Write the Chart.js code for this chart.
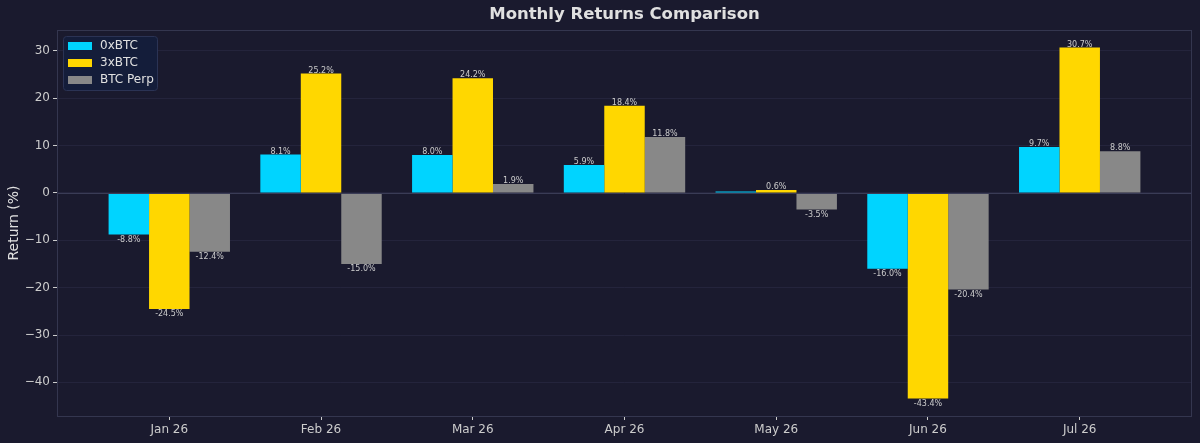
<!DOCTYPE html>
<html>
<head>
<meta charset="utf-8">
<script src="https://cdn.jsdelivr.net/npm/chart.js@4.4.1/dist/chart.umd.min.js"></script>
<style>
  html, body { margin: 0; padding: 0; background: #1a1a2e; }
  #wrap { width: 1200px; height: 443px; position: relative; }
</style>
</head>
<body>
<div id="wrap"><canvas id="returnsChart"></canvas></div>
<script>
// chart data
var months = ["Jan 26", "Feb 26", "Mar 26", "Apr 26", "May 26", "Jun 26", "Jul 26"];
var returns0x = [-8.8, 8.1, 8.0, 5.9, 0.3, -16.0, 9.7];
var returns3x = [-24.5, 25.2, 24.2, 18.4, 0.6, -43.4, 30.7];
var returnsPerp = [-12.4, -15.0, 1.9, 11.8, -3.5, -20.4, 8.8];
var yTicks = [-40, -30, -20, -10, 0, 10, 20, 30];

var FONT = "'DejaVu Sans', sans-serif";

function toPoints(values) {
    return values.map(function (v, i) { return { x: i, y: v }; });
}

// title, frame, zero line, legend and value labels
var decorPlugin = {
    id: "decor",
    afterDatasetsDraw: function (chart) {
        var ctx = chart.ctx;
        var area = chart.chartArea;
        var y0 = Math.round(chart.scales.y.getPixelForValue(0)) + 0.5;
        ctx.save();
        ctx.strokeStyle = "#3a3c56";
        ctx.lineWidth = 1;
        ctx.beginPath();
        ctx.moveTo(area.left, y0);
        ctx.lineTo(area.right, y0);
        ctx.stroke();
        ctx.restore();
    },
    afterDraw: function (chart) {
        var ctx = chart.ctx;
        var area = chart.chartArea;
        ctx.save();

        // frame
        ctx.strokeStyle = "#34364f";
        ctx.lineWidth = 1;
        ctx.strokeRect(area.left + 0.5, area.top + 0.5, area.right - area.left - 1, area.bottom - area.top);

        // title
        ctx.fillStyle = "#e0e0e0";
        ctx.font = "bold 16.5px " + FONT;
        ctx.textAlign = "center";
        ctx.textBaseline = "middle";
        ctx.fillText("Monthly Returns Comparison", (area.left + area.right) / 2, 15);

        // value labels
        ctx.font = "8px " + FONT;
        ctx.fillStyle = "#cccccc";
        chart.data.datasets.forEach(function (ds, di) {
            var meta = chart.getDatasetMeta(di);
            meta.data.forEach(function (bar, i) {
                var v = ds.data[i].y;
                if (Math.abs(v) < 0.5) return;
                var txt = v.toFixed(1) + "%";
                ctx.textBaseline = v >= 0 ? "bottom" : "top";
                ctx.fillText(txt, bar.x, bar.y + 1);
            });
        });

        // legend
        var lx = area.left + 6, ly = area.top + 6, lw = 94, lh = 54;
        ctx.fillStyle = "#141d3a";
        ctx.strokeStyle = "#2b3354";
        ctx.beginPath();
        ctx.roundRect(lx + 0.5, ly + 0.5, lw, lh, 3);
        ctx.fill();
        ctx.stroke();
        ctx.font = "12px " + FONT;
        ctx.textAlign = "left";
        ctx.textBaseline = "middle";
        chart.data.datasets.forEach(function (ds, di) {
            var ry = ly + 10 + di * 17;
            ctx.fillStyle = ds.backgroundColor;
            ctx.fillRect(lx + 5, ry - 4, 24, 8);
            ctx.fillStyle = "#e0e0e0";
            ctx.fillText(ds.label, lx + 37, ry);
        });

        ctx.restore();
    }
};

new Chart(document.getElementById("returnsChart"), {
    type: "bar",
    data: {
        datasets: [{
            label: "0xBTC",
            data: toPoints(returns0x),
            backgroundColor: "#00d4ff",
            borderWidth: 0
        }, {
            label: "3xBTC",
            data: toPoints(returns3x),
            backgroundColor: "#ffd700",
            borderWidth: 0
        }, {
            label: "BTC Perp",
            data: toPoints(returnsPerp),
            backgroundColor: "#888888",
            borderWidth: 0
        }]
    },
    options: {
        responsive: true,
        maintainAspectRatio: false,
        animation: false,
        layout: { padding: { top: 30, right: 8, left: 0, bottom: 0 } },
        datasets: { bar: { categoryPercentage: 0.8, barPercentage: 1.0 } },
        plugins: {
            legend: { display: false },
            title: { display: false },
            tooltip: { enabled: false }
        },
        scales: {
            x: {
                type: "linear",
                min: -0.74,
                max: 6.74,
                offset: false,
                afterBuildTicks: function (axis) {
                    axis.ticks = months.map(function (m, i) { return { value: i }; });
                },
                afterFit: function (axis) { axis.height = 27; },
                ticks: {
                    color: "#cccccc",
                    font: { family: FONT, size: 12 },
                    padding: 3,
                    maxRotation: 0,
                    callback: function (value) { return months[value]; }
                },
                grid: {
                    offset: false,
                    drawOnChartArea: false,
                    drawTicks: true,
                    tickLength: 4,
                    tickColor: "#cccccc"
                },
                border: { display: false }
            },
            y: {
                min: -47.1,
                max: 34.4,
                z: 1,
                afterBuildTicks: function (axis) {
                    axis.ticks = yTicks.map(function (v) { return { value: v }; });
                },
                afterFit: function (axis) { axis.width = 57; },
                ticks: {
                    color: "#cccccc",
                    font: { family: FONT, size: 12 },
                    padding: 3,
                    callback: function (value) {
                        return value < 0 ? "\u2212" + Math.abs(value) : String(value);
                    }
                },
                grid: {
                    color: "rgba(60, 60, 92, 0.3)",
                    lineWidth: 1,
                    drawTicks: true,
                    tickLength: 4,
                    tickColor: "#cccccc"
                },
                border: { display: false },
                title: {
                    display: true,
                    text: "Return (%)",
                    color: "#e0e0e0",
                    font: { family: FONT, size: 14 },
                    padding: { top: 6, bottom: 0 }
                }
            }
        }
    },
    plugins: [decorPlugin]
});
</script>
</body>
</html>
